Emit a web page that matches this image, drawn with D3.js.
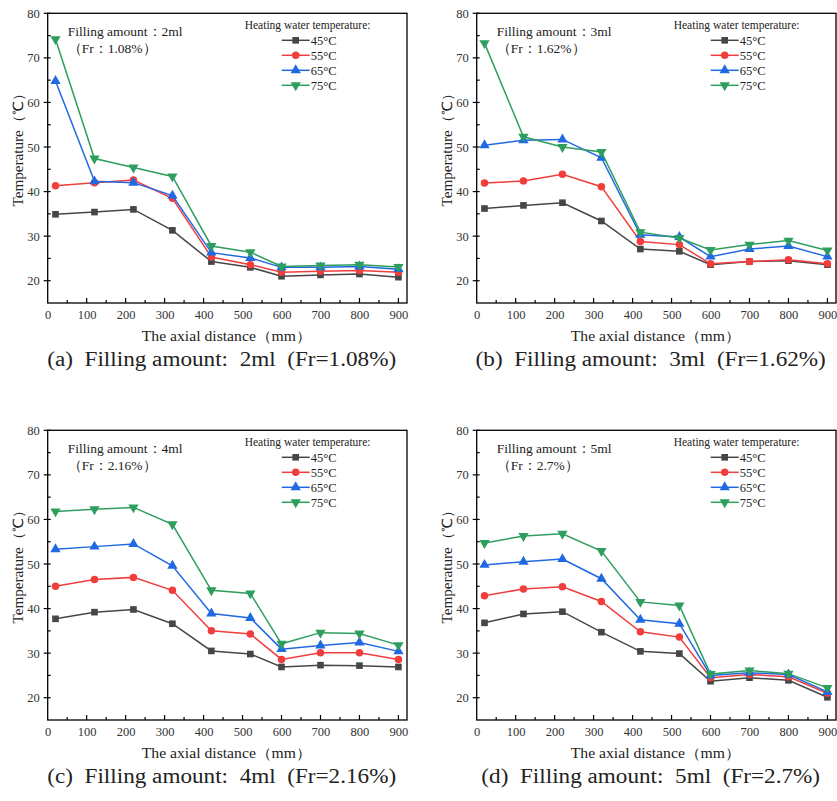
<!DOCTYPE html>
<html>
<head>
<meta charset="utf-8">
<script src="https://cdn.jsdelivr.net/npm/d3@7"></script>
<style>
  body { margin: 0; background: #fff; }
  text { font-family: "Liberation Serif", "Times New Roman", serif; }
  .caption { white-space: pre; }
</style>
</head>
<body>
<svg id="chart" width="837" height="801"></svg>
<script>
// axial positions (mm)
var distances = [20, 120, 220, 320, 420, 520, 600, 700, 800, 900]
var seriesNames = ['45°C', '55°C', '65°C', '75°C']
var seriesColors = ['#464646', '#f23d3d', '#2169e3', '#2e9e5e']
var seriesShapes = ['square', 'circle', 'triangle', 'triangleDown']

var xTicks = [0, 100, 200, 300, 400, 500, 600, 700, 800, 900]
var yTicks = [20, 30, 40, 50, 60, 70, 80]

// (a) 2ml
var temps2ml = [
  [34.9, 35.4, 36.0, 31.3, 24.3, 23.0, 21.0, 21.3, 21.5, 20.8],
  [41.3, 42.0, 42.6, 38.5, 25.3, 23.6, 21.9, 22.1, 22.3, 21.9],
  [64.8, 42.3, 42.0, 39.1, 26.3, 25.1, 23.0, 23.0, 23.2, 22.6],
  [74.2, 47.4, 45.4, 43.4, 27.8, 26.4, 23.2, 23.4, 23.6, 23.1]
]
// (b) 3ml
var temps3ml = [
  [36.2, 36.9, 37.5, 33.4, 27.1, 26.6, 23.6, 24.3, 24.5, 23.6],
  [41.9, 42.4, 43.9, 41.1, 28.8, 28.1, 23.8, 24.3, 24.7, 23.8],
  [50.4, 51.5, 51.7, 47.6, 30.3, 29.8, 25.4, 27.1, 27.8, 25.4],
  [73.3, 52.3, 50.0, 48.9, 30.9, 29.6, 26.9, 28.1, 29.0, 26.8]
]
// (c) 4ml
var temps4ml = [
  [37.7, 39.2, 39.8, 36.6, 30.5, 29.8, 26.9, 27.3, 27.2, 26.9],
  [45.0, 46.5, 47.0, 44.1, 35.0, 34.3, 28.6, 30.1, 30.1, 28.6],
  [53.3, 53.9, 54.5, 49.6, 38.9, 37.9, 30.9, 31.7, 32.4, 30.4],
  [61.8, 62.3, 62.7, 58.9, 44.1, 43.4, 32.1, 34.6, 34.4, 31.8]
]
// (d) 5ml
var temps5ml = [
  [36.8, 38.8, 39.3, 34.7, 30.4, 29.9, 23.7, 24.5, 23.9, 20.1],
  [42.9, 44.4, 44.9, 41.6, 34.8, 33.6, 24.5, 25.2, 24.7, 21.0],
  [49.8, 50.5, 51.1, 46.7, 37.5, 36.6, 25.0, 25.6, 25.2, 21.3],
  [54.7, 56.3, 56.8, 52.9, 41.5, 40.7, 25.3, 26.1, 25.4, 22.2]
]

var panels = [
  {data: temps2ml, note1: 'Filling amount：2ml', note2: '（Fr：1.08%）', caption: '(a)  Filling amount:  2ml  (Fr=1.08%)', dx: 0, dy: 0},
  {data: temps3ml, note1: 'Filling amount：3ml', note2: '（Fr：1.62%）', caption: '(b)  Filling amount:  3ml  (Fr=1.62%)', dx: 429, dy: 0},
  {data: temps4ml, note1: 'Filling amount：4ml', note2: '（Fr：2.16%）', caption: '(c)  Filling amount:  4ml  (Fr=2.16%)', dx: 0, dy: 417},
  {data: temps5ml, note1: 'Filling amount：5ml', note2: '（Fr：2.7%）', caption: '(d)  Filling amount:  5ml  (Fr=2.7%)', dx: 429, dy: 417}
]

var svg = d3.select('#chart')
var plotLeft = 47.7, plotTop = 13.3, w = 359.3, h = 289.7

var x = d3.scaleLinear().domain([0, 922]).range([0, w])
var y = d3.scaleLinear().domain([15, 80]).range([h, 0])

var symbolFor = (shape) => {
  if (shape == 'square') return d3.symbol().type(d3.symbolSquare).size(44)
  if (shape == 'circle') return d3.symbol().type(d3.symbolCircle).size(44)
  return d3.symbol().type(d3.symbolTriangle).size(46)
}

// widen a text a little, the reference face is wider than Liberation Serif
var stretch = (sel, k) => {
  var len = sel.node().getComputedTextLength()
  sel.attr('textLength', len * k).attr('lengthAdjust', 'spacingAndGlyphs')
}

panels.forEach(function(p) {
  var g = svg.append('g').attr('transform', 'translate(' + (p.dx + plotLeft) + ',' + (p.dy + plotTop) + ')')

  // frame
  g.append('rect').attr('width', w).attr('height', h)
    .attr('fill', 'none').attr('stroke', '#000').attr('stroke-width', 1.3)

  // bottom axis, ticks inward
  var xAxis = g.append('g').attr('transform', 'translate(0,' + h + ')')
    .call(d3.axisBottom(x).tickValues(xTicks).tickSize(0).tickPadding(7))
  xAxis.select('.domain').remove()
  xAxis.selectAll('text').attr('font-size', 12.5).attr('fill', '#333')
  d3.range(50, 901, 50).forEach(function(v) {
    g.append('line').attr('x1', x(v)).attr('x2', x(v))
      .attr('y1', h).attr('y2', h - (v % 100 == 0 ? 5 : 3))
      .attr('stroke', '#000').attr('stroke-width', 1.2)
  })

  // left axis
  var yAxis = g.append('g')
    .call(d3.axisLeft(y).tickValues(yTicks).tickSize(0).tickPadding(8))
  yAxis.select('.domain').remove()
  yAxis.selectAll('text').attr('font-size', 12.5).attr('fill', '#333')
  d3.range(20, 81, 5).forEach(function(v) {
    var major = v % 10 == 0
    g.append('line').attr('x1', major ? -4 : 0).attr('x2', 3)
      .attr('y1', y(v)).attr('y2', y(v))
      .attr('stroke', '#000').attr('stroke-width', 1.2)
  })

  // series
  var line = d3.line().x((d, i) => x(distances[i])).y(d => y(d))
  p.data.forEach(function(vals, si) {
    g.append('path').datum(vals).attr('d', line)
      .attr('fill', 'none').attr('stroke', seriesColors[si]).attr('stroke-width', 1.5)
    g.selectAll('.m' + si).data(vals).enter().append('path')
      .attr('d', symbolFor(seriesShapes[si])())
      .attr('transform', (d, i) => 'translate(' + x(distances[i]) + ',' + y(d) + ')' +
        (seriesShapes[si] == 'triangleDown' ? ' rotate(180)' : ''))
      .attr('fill', seriesColors[si])
  })

  // annotation
  g.append('text').attr('x', 20).attr('y', 23).attr('font-size', 13.5).attr('fill', '#222').text(p.note1)
  g.append('text').attr('x', 20).attr('y', 40).attr('font-size', 13.5).attr('fill', '#222').text(p.note2)

  // legend
  var lg = g.append('g').attr('transform', 'translate(197,0)')
  lg.append('text').attr('x', 0).attr('y', 16).attr('font-size', 11.5).attr('fill', '#222').text('Heating water temperature:')
  seriesNames.forEach(function(name, si) {
    var yy = 27 + si * 15
    lg.append('line').attr('x1', 37).attr('x2', 65).attr('y1', yy).attr('y2', yy)
      .attr('stroke', seriesColors[si]).attr('stroke-width', 1.5)
    lg.append('path').attr('d', symbolFor(seriesShapes[si])())
      .attr('transform', 'translate(51,' + yy + ')' + (seriesShapes[si] == 'triangleDown' ? ' rotate(180)' : ''))
      .attr('fill', seriesColors[si])
    lg.append('text').attr('x', 66).attr('y', yy + 4.5).attr('font-size', 12.5).attr('fill', '#222').text(name)
  })

  // y title
  var yt = g.append('text').attr('transform', 'translate(-25,' + (h / 2 - 12) + ') rotate(-90)')
    .attr('text-anchor', 'middle').attr('font-size', 14).attr('fill', '#222').text('Temperature（℃）')
  stretch(yt, 1.08)

  // x title and caption
  var xt = g.append('text').attr('x', 179).attr('y', h + 38).attr('text-anchor', 'middle')
    .attr('font-size', 14).attr('fill', '#222').text('The axial distance（mm）')
  stretch(xt, 1.12)
  var cap = g.append('text').attr('class', 'caption').attr('x', 174).attr('y', h + 63).attr('text-anchor', 'middle')
    .attr('font-size', 20.5).attr('fill', '#222').text(p.caption)
  stretch(cap, 1.13)
})
</script>
</body>
</html>
